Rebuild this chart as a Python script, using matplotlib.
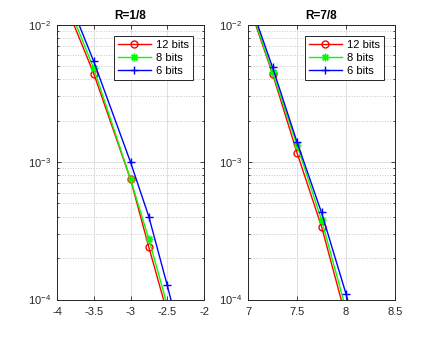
import matplotlib
matplotlib.use("Agg")
import matplotlib.pyplot as plt
from matplotlib.ticker import LogLocator, NullFormatter, FixedLocator

plt.rcParams["font.family"] = ["Liberation Sans", "DejaVu Sans"]
plt.rcParams["mathtext.fontset"] = "custom"
plt.rcParams["mathtext.rm"] = "Liberation Sans"

labels = ["12 bits", "8 bits", "6 bits"]
colors = ["#ff0000", "#00ff00", "#0000ff"]
markers = ["o", (8, 2, 0), "+"]

# R=1/8
x_left = [-4, -3.5, -3, -2.75, -2.5]
left_12 = [2.0e-2, 4.4e-3, 7.5e-4, 2.4e-4, 8.0e-5]
left_8 = [2.2e-2, 4.8e-3, 7.5e-4, 2.75e-4, 9.1e-5]
x_left6 = [-4, -3.5, -3, -2.75, -2.5, -2.25]
left_6 = [2.5e-2, 5.4e-3, 1.0e-3, 4.0e-4, 1.27e-4, 3.8e-5]

# R=7/8
x_right = [7, 7.25, 7.5, 7.75, 8]
right_12 = [1.45e-2, 4.4e-3, 1.17e-3, 3.4e-4, 7.4e-5]
right_8 = [1.5e-2, 4.5e-3, 1.33e-3, 3.8e-4, 8.5e-5]
x_right6 = [7, 7.25, 7.5, 7.75, 8, 8.25]
right_6 = [1.58e-2, 4.9e-3, 1.4e-3, 4.3e-4, 1.1e-4, 2.5e-5]

panels = [
    ("R=1/8", [(x_left, left_12), (x_left, left_8), (x_left6, left_6)],
     (-4, -2), [-4, -3.5, -3, -2.5, -2], ["-4", "-3.5", "-3", "-2.5", "-2"]),
    ("R=7/8", [(x_right, right_12), (x_right, right_8), (x_right6, right_6)],
     (7, 8.5), [7, 7.5, 8, 8.5], ["7", "7.5", "8", "8.5"]),
]

fig = plt.figure(figsize=(4.36, 3.37), dpi=100)
lefts = [57 / 436, 248 / 436]
txt = "#262626"

for left, (title, series, xlim, xt, xtl) in zip(lefts, panels):
    ax = fig.add_axes([left, 0.111, 147 / 436, 0.816])
    for (xs, ys), lab, c, m in zip(series, labels, colors, markers):
        ax.semilogy(xs, ys, color=c, marker=m, markersize=5.5 if m != "o" else 5,
                    markerfacecolor="none" if m == "o" else c,
                    markeredgewidth=1.0, linewidth=1.0, label=lab)
    ax.set_xlim(*xlim)
    ax.set_ylim(1e-4, 1e-2)
    ax.xaxis.set_major_locator(FixedLocator(xt))
    ax.set_xticklabels(xtl)
    ax.yaxis.set_major_locator(LogLocator(base=10, numticks=5))
    ax.yaxis.set_minor_locator(LogLocator(base=10, subs=range(2, 10), numticks=20))
    ax.yaxis.set_minor_formatter(NullFormatter())
    ax.grid(True, which="major", color="#e0e0e0", linewidth=0.7, linestyle="-")
    ax.grid(True, which="minor", axis="y", color="#c8c8c8", linewidth=0.7, linestyle=":")
    ax.set_axisbelow(True)
    ax.tick_params(which="both", direction="in", top=True, right=True,
                   labelsize=8, colors=txt, width=0.6)
    ax.tick_params(axis="x", which="major", length=3, pad=5)
    ax.tick_params(axis="y", which="major", length=3, pad=4)
    ax.tick_params(which="minor", length=1.5)
    for sp in ax.spines.values():
        sp.set_color(txt)
        sp.set_linewidth(0.7)
    ax.set_title(title, fontsize=8.5, fontweight="bold", color="black", pad=4)
    leg = ax.legend(loc="upper right", fontsize=8, fancybox=False, framealpha=1,
                    edgecolor=txt, borderaxespad=1.0, handlelength=3.0,
                    borderpad=0.35, labelspacing=0.3, handletextpad=0.45)
    leg.get_frame().set_linewidth(0.7)

fig.savefig("out.png", dpi=100)
